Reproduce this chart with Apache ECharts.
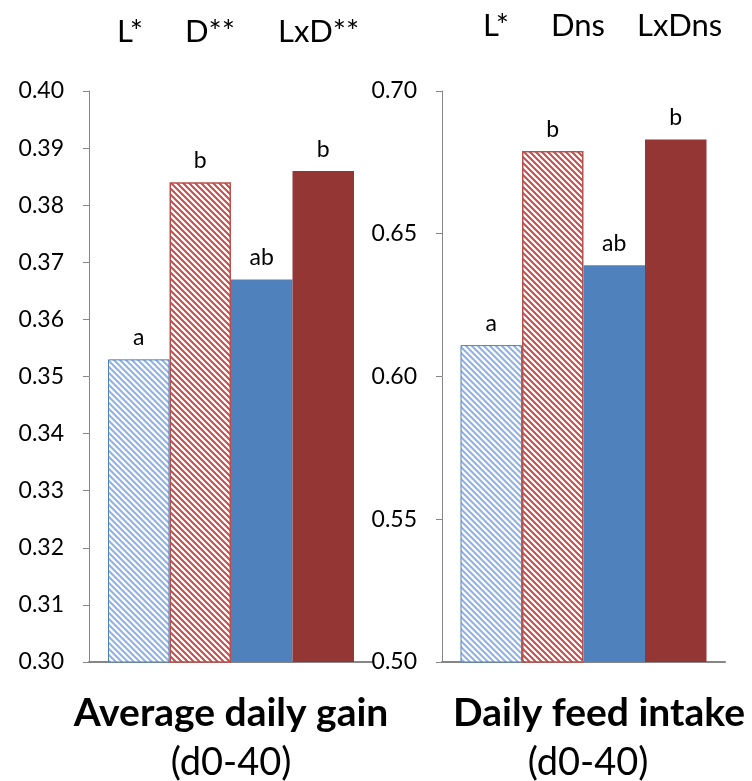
<!DOCTYPE html>
<html>
<head>
<meta charset="utf-8">
<script src="https://cdn.jsdelivr.net/npm/echarts@6/dist/echarts.min.js"></script>
<style>
html,body{margin:0;padding:0;background:#fff;}
#chart{width:752px;height:781px;}
</style>
</head>
<body>
<div id="chart"></div>
<script>
// ---- data ----
var treatments = ['T1', 'T2', 'T3', 'T4'];
var adgValues = [0.353, 0.384, 0.367, 0.386];
var dfiValues = [0.611, 0.679, 0.639, 0.683];
var adgLetters = ['a', 'b', 'ab', 'b'];
var dfiLetters = ['a', 'b', 'ab', 'b'];
var adgAxis = {min: 0.30, max: 0.40, interval: 0.01};
var dfiAxis = {min: 0.50, max: 0.70, interval: 0.05};
var adgEffects = ['L*', 'D**', 'LxD**'];
var dfiEffects = ['L*', 'Dns', 'LxDns'];
var adgTitle = 'Average daily gain';
var dfiTitle = 'Daily feed intake';
var periodLabel = '(d0-40)';

var FONT = 'Lato, "Open Sans", sans-serif';

function hatch(color) {
  var s = 6;
  var c = document.createElement('canvas');
  c.width = s; c.height = s;
  var g = c.getContext('2d');
  g.fillStyle = '#fff';
  g.fillRect(0, 0, s, s);
  g.strokeStyle = color;
  g.lineWidth = 2;
  g.beginPath();
  g.moveTo(-1, -1); g.lineTo(s + 1, s + 1);
  g.moveTo(-1, s - 1); g.lineTo(1, s + 1);
  g.moveTo(s - 1, -1); g.lineTo(s + 1, 1);
  g.stroke();
  return {image: c, repeat: 'repeat'};
}

var styles = [
  {color: hatch('#8DB3E2'), borderColor: '#4F81BD', borderWidth: 1},
  {color: hatch('#C0504D'), borderColor: '#B9504C', borderWidth: 1.5},
  {color: '#4F81BD', borderColor: '#4F81BD', borderWidth: 0},
  {color: '#943634', borderColor: '#943634', borderWidth: 0}
];

var chart = echarts.init(document.getElementById('chart'), null, {renderer: 'canvas'});

function yAxis(idx, ax) {
  return {
    type: 'value', gridIndex: idx, min: ax.min, max: ax.max, interval: ax.interval,
    axisLine: {show: true, lineStyle: {color: '#868686', width: 1}},
    axisTick: {show: true, length: 6, lineStyle: {color: '#868686'}},
    splitLine: {show: false},
    axisLabel: {color: '#000', fontFamily: FONT, fontSize: 23, margin: 25,
      formatter: function (v) { return v.toFixed(2); }}
  };
}
function xAxis(idx) {
  return {
    type: 'category', gridIndex: idx, data: [''],
    axisLine: {show: true, lineStyle: {color: '#868686', width: 2}},
    axisTick: {show: false}, axisLabel: {show: false}
  };
}

var series = [];
[[adgValues, adgLetters], [dfiValues, dfiLetters]].forEach(function (pair, gi) {
  treatments.forEach(function (t, i) {
    series.push({
      type: 'bar', name: t, xAxisIndex: gi, yAxisIndex: gi,
      barWidth: 61.5, barGap: '0%',
      data: [pair[0][i]],
      itemStyle: styles[i],
      label: {show: true, position: 'top', distance: 10, color: '#000',
        fontFamily: FONT, fontSize: 23,
        formatter: (function (l) { return function () { return l; }; })(pair[1][i])}
    });
  });
});

function effectTitles(list, lefts, top) {
  return list.map(function (txt, i) {
    return {text: txt, left: lefts[i], top: top,
      textStyle: {fontFamily: FONT, fontSize: 31, fontWeight: 'normal', color: '#000'}};
  });
}

var titles = []
  .concat(effectTitles(adgEffects, [112, 180, 273], 11))
  .concat(effectTitles(dfiEffects, [478, 546, 632], 5))
  .concat([
    {text: adgTitle, left: 226, textAlign: 'center', top: 689,
      textStyle: {fontFamily: FONT, fontSize: 39, fontWeight: 'bold', color: '#000'}},
    {text: periodLabel, left: 226, textAlign: 'center', top: 739,
      textStyle: {fontFamily: FONT, fontSize: 38, fontWeight: 'normal', color: '#000'}},
    {text: dfiTitle, right: 2, top: 689,
      textStyle: {fontFamily: FONT, fontSize: 39, fontWeight: 'bold', color: '#000'}},
    {text: periodLabel, left: 583, textAlign: 'center', top: 739,
      textStyle: {fontFamily: FONT, fontSize: 38, fontWeight: 'normal', color: '#000'}}
  ]);

chart.setOption({
  animation: false,
  backgroundColor: '#fff',
  title: titles,
  grid: [
    {left: 89, top: 91, width: 284, height: 571},
    {left: 442, top: 91, width: 283, height: 571}
  ],
  xAxis: [xAxis(0), xAxis(1)],
  yAxis: [yAxis(0, adgAxis), yAxis(1, dfiAxis)],
  series: series
});
</script>
</body>
</html>
